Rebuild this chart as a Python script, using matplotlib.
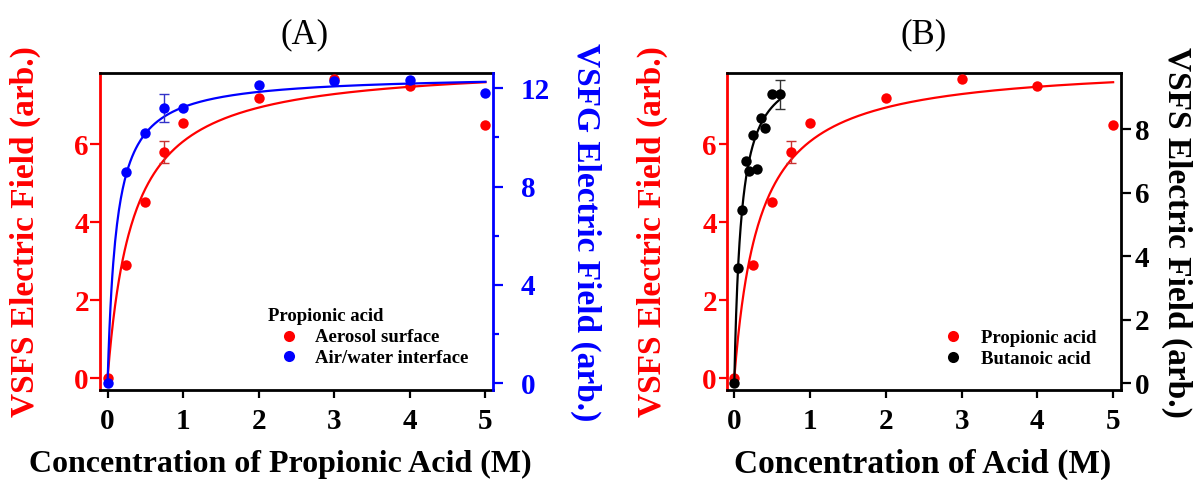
import numpy as np
import matplotlib
matplotlib.use("Agg")
import matplotlib.pyplot as plt
from matplotlib.lines import Line2D

plt.rcParams['font.family'] = ['Liberation Serif', 'DejaVu Serif']
plt.rcParams['font.weight'] = 'bold'

# ---------------- data ----------------
conc_prop = [0, 0.25, 0.5, 0.75, 1, 2, 3, 4, 5]
aerosol_field = [0.0, 2.90, 4.51, 5.80, 6.54, 7.19, 7.67, 7.49, 6.49]
airwater_field = [0.0, 8.61, 10.16, 11.19, 11.19, 12.14, 12.30, 12.34, 11.81]

conc_but = [0, 0.05, 0.1, 0.15, 0.2, 0.25, 0.3, 0.35, 0.4, 0.5, 0.6]
butanoic_field = [0.0, 3.62, 5.46, 7.01, 6.67, 7.82, 6.74, 8.35, 8.04, 9.10, 9.10]

# error bars (index into the series, half-height)
aerosol_err_idx, aerosol_err = 3, 0.29
airwater_err_idx, airwater_err = 3, 0.57
butanoic_err_idx, butanoic_err = 10, 0.45

# Langmuir-type fits: E = Emax * K c / (1 + K c)
aerosol_fit = (8.1, 3.0)
airwater_fit = (12.55, 8.5)
butanoic_fit = (10.3, 10.9)

xticks = [0, 1, 2, 3, 4, 5]
left_ticks = [0, 2, 4, 6]
rightA_ticks = [0, 4, 8, 12]
rightA_minor = [2, 6, 10]
rightB_ticks = [0, 2, 4, 6, 8]

RED = '#FF0000'
BLUE = '#0000FF'
BLACK = '#000000'
TICK_FS = 21


def langmuir(c, emax, k):
    c = np.asarray(c, dtype=float)
    return emax * k * c / (1 + k * c)


W, H = 1196, 480
fig = plt.figure(figsize=(W / 100, H / 100), dpi=100)


def px_axes(x0, x1, y0, y1):
    return fig.add_axes([x0 / W, 1 - y1 / H, (x1 - x0) / W, (y1 - y0) / H])


def style_pair(ax, ax2, rcolor, lw=2.0):
    for s in ['top', 'bottom']:
        ax.spines[s].set_linewidth(lw)
        ax.spines[s].set_color(BLACK)
    ax.spines['left'].set_color(RED)
    ax.spines['left'].set_linewidth(lw)
    ax.spines['right'].set_visible(False)
    for s in ['top', 'bottom', 'left']:
        ax2.spines[s].set_visible(False)
    ax2.spines['right'].set_color(rcolor)
    ax2.spines['right'].set_linewidth(lw)
    ax.set_xlim(-0.1, 5.1)
    ax.set_ylim(-0.3, 7.83)
    ax.set_xticks(xticks)
    ax.set_yticks(left_ticks)
    ax.tick_params(axis='x', direction='out', length=6, width=1.6, colors=BLACK,
                   labelsize=TICK_FS, pad=7)
    ax.tick_params(axis='y', direction='out', length=7, width=1.6, colors=RED,
                   labelsize=TICK_FS, pad=1)
    for lab in ax.get_xticklabels() + ax.get_yticklabels():
        lab.set_fontweight('bold')


# ---------------- Panel A ----------------
axA = px_axes(100, 493, 73, 390)
axA2 = axA.twinx()
style_pair(axA, axA2, BLUE)
axA2.set_ylim(-0.27, 12.62)
axA2.set_yticks(rightA_ticks)
axA2.set_yticks(rightA_minor, minor=True)
axA2.tick_params(axis='y', which='major', direction='out', length=7, width=1.6,
                 colors=BLUE, labelsize=TICK_FS, pad=13)
axA2.tick_params(axis='y', which='minor', direction='out', length=4.5, width=1.6,
                 colors=BLUE)
for lab in axA2.get_yticklabels():
    lab.set_fontweight('bold')

cc = np.linspace(0, 5, 400)
axA.plot(cc, langmuir(cc, *aerosol_fit), color=RED, lw=1.6, zorder=2)
axA.errorbar(conc_prop[aerosol_err_idx], aerosol_field[aerosol_err_idx],
             yerr=aerosol_err, fmt='none', ecolor='#C83232', elinewidth=1.0,
             capsize=3.5, capthick=1.0, zorder=3)
axA.plot(conc_prop, aerosol_field, 'o', color=RED, ms=7.5, mec='none', zorder=4)

axA2.plot(cc, langmuir(cc, *airwater_fit), color=BLUE, lw=1.6, zorder=2)
axA2.errorbar(conc_prop[airwater_err_idx], airwater_field[airwater_err_idx],
              yerr=airwater_err, fmt='none', ecolor='#3232C8', elinewidth=1.0,
              capsize=3.5, capthick=1.0, zorder=3)
axA2.plot(conc_prop, airwater_field, 'o', color=BLUE, ms=7.5, mec='none', zorder=4)

hA = [Line2D([], [], ls='none', marker='o', color=RED, ms=8, mec='none'),
      Line2D([], [], ls='none', marker='o', color=BLUE, ms=8, mec='none')]
axA2.legend(hA, ['Aerosol surface', 'Air/water interface'],
            title='Propionic acid', frameon=False, loc='upper left',
            bbox_to_anchor=(0.4275, 0.258), borderpad=0, borderaxespad=0,
            handlelength=2.2, handletextpad=0.3, labelspacing=0.2,
            alignment='left',
            prop={'size': 13.5, 'weight': 'bold'},
            title_fontproperties={'size': 13.5, 'weight': 'bold'})

# ---------------- Panel B ----------------
axB = px_axes(726.7, 1120.7, 73, 390)
axB2 = axB.twinx()
style_pair(axB, axB2, BLACK)
axB.tick_params(axis='y', length=6)
axB2.set_ylim(-0.21, 9.77)
axB2.set_yticks(rightB_ticks)
axB2.tick_params(axis='y', direction='out', length=7, width=1.6, colors=BLACK,
                 labelsize=TICK_FS, pad=3)
for lab in axB2.get_yticklabels():
    lab.set_fontweight('bold')

axB.plot(cc, langmuir(cc, *aerosol_fit), color=RED, lw=1.6, zorder=2)
axB.errorbar(conc_prop[aerosol_err_idx], aerosol_field[aerosol_err_idx],
             yerr=aerosol_err, fmt='none', ecolor='#C83232', elinewidth=1.0,
             capsize=3.5, capthick=1.0, zorder=3)
axB.plot(conc_prop, aerosol_field, 'o', color=RED, ms=7.5, mec='none', zorder=4)

cb = np.linspace(0, conc_but[-1], 200)
axB2.plot(cb, langmuir(cb, *butanoic_fit), color=BLACK, lw=1.6, zorder=2)
axB2.errorbar(conc_but[butanoic_err_idx], butanoic_field[butanoic_err_idx],
              yerr=butanoic_err, fmt='none', ecolor='#333333', elinewidth=1.0,
              capsize=3.5, capthick=1.0, zorder=3)
axB2.plot(conc_but, butanoic_field, 'o', color=BLACK, ms=7.5, mec='none', zorder=4)

hB = [Line2D([], [], ls='none', marker='o', color=RED, ms=8, mec='none'),
      Line2D([], [], ls='none', marker='o', color=BLACK, ms=8, mec='none')]
axB2.legend(hB, ['Propionic acid', 'Butanoic acid'], frameon=False,
            loc='upper left', bbox_to_anchor=(0.5515, 0.19), borderpad=0,
            borderaxespad=0, handlelength=1.0, handletextpad=1.0,
            labelspacing=0.2, prop={'size': 13.5, 'weight': 'bold'})

# ---------------- text ----------------
def ftext(x, y, s, **kw):
    fig.text(x / W, 1 - y / H, s, ha='center', va='center', **kw)

ftext(305, 35, '(A)', fontsize=25, fontweight='normal')
ftext(924, 35, '(B)', fontsize=25, fontweight='normal')
ftext(25, 232, 'VSFS Electric Field (arb.)', fontsize=24, fontweight='bold',
      color=RED, rotation=90)
ftext(586, 232, 'VSFG Electric Field (arb.)', fontsize=24, fontweight='bold',
      color=BLUE, rotation=270)
ftext(652, 232, 'VSFS Electric Field (arb.)', fontsize=24, fontweight='bold',
      color=RED, rotation=90)
ftext(1177, 232, 'VSFS Electric Field (arb.)', fontsize=24, fontweight='bold',
      color=BLACK, rotation=270)
ftext(280, 464, 'Concentration of Propionic Acid (M)', fontsize=23,
      fontweight='bold')
ftext(923, 464, 'Concentration of Acid (M)', fontsize=24, fontweight='bold')

fig.savefig('out.png', dpi=100)
